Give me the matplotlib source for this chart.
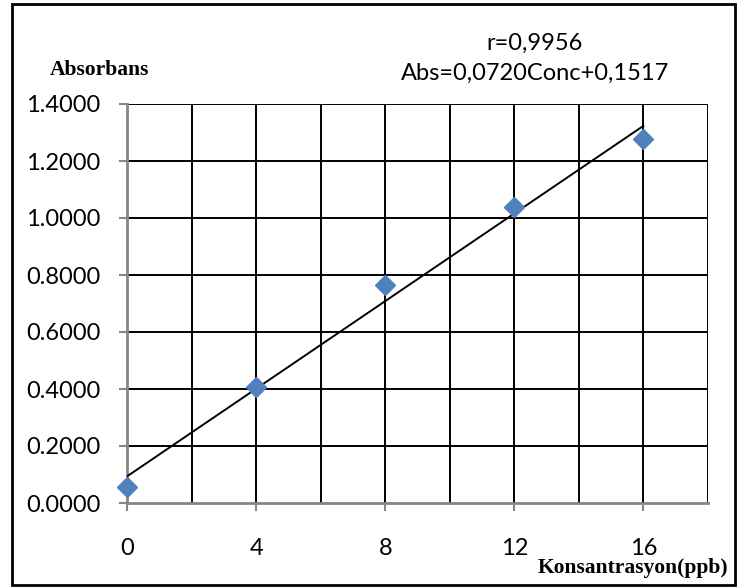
import numpy as np
import matplotlib.pyplot as plt
from matplotlib.patches import Rectangle

# calibration data
conc = [0, 4, 8, 12, 16]
absorbance = [0.055, 0.407, 0.765, 1.038, 1.277]
x_ticks = [0, 4, 8, 12, 16]
y_ticks = [0.0, 0.2, 0.4, 0.6, 0.8, 1.0, 1.2, 1.4]
eq_r = "r=0,9956"
eq_line = "Abs=0,0720Conc+0,1517"

plt.rcParams['font.family'] = ['Lato', 'DejaVu Sans']

W, H = 739, 587
fig = plt.figure(figsize=(W / 100, H / 100), dpi=100)
# plot area: x 127..708 px, y 104..503 px
ax = fig.add_axes([127 / W, 1 - 503 / H, (708 - 127) / W, (503 - 104) / H])

# least-squares trend line through the points
slope, intercept = np.polyfit(conc, absorbance, 1)
xs = np.array([conc[0], conc[-1]])
ax.plot(xs, slope * xs + intercept, color='black', lw=1.4, zorder=3)
ax.plot(conc, absorbance, 'D', color='#4F81BD', markersize=10, zorder=4, clip_on=False)

ax.set_xlim(0, 18)
ax.set_ylim(0, 1.4)
for gx in np.arange(2, 19, 2):
    ax.axvline(gx, color='black', lw=1.4, zorder=1)
for gy in y_ticks[1:]:
    ax.axhline(gy, color='black', lw=1.4, zorder=1)

ax.set_xticks(x_ticks)
ax.set_xticklabels([str(v) for v in x_ticks], fontsize=17)
ax.set_yticks(y_ticks)
ax.set_yticklabels([f"{v:.4f}" for v in y_ticks], fontsize=17)
ax.tick_params(axis='x', length=6, width=1.5, color='#868686', pad=19)
ax.tick_params(axis='y', length=6, width=1.5, color='#868686', pad=13)

for side in ['top', 'right']:
    ax.spines[side].set_visible(False)
for side in ['left', 'bottom']:
    ax.spines[side].set_color('#868686')
    ax.spines[side].set_linewidth(2)

fig.text(50 / W, 1 - 70 / H, "Absorbans", family='Liberation Serif',
         fontweight='bold', fontsize=15.5, va='center', ha='left')
fig.text(728 / W, 1 - 568 / H, "Konsantrasyon(ppb)", family='Liberation Serif',
         fontweight='bold', fontsize=15.5, va='center', ha='right')
fig.text(535 / W, 1 - 43 / H, eq_r, fontsize=17, ha='center', va='center')
fig.text(535 / W, 1 - 73 / H, eq_line, fontsize=17, ha='center', va='center')

fig.patches.append(Rectangle((12 / W, 1 - 585 / H), 723 / W, 581 / H,
                             transform=fig.transFigure, fill=False,
                             edgecolor='black', lw=2))

fig.savefig('out.png', dpi=100)
